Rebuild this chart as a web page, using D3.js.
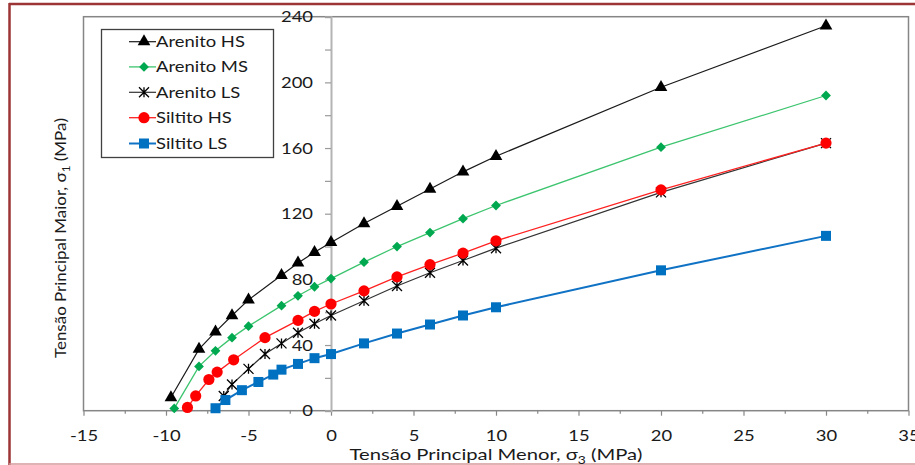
<!DOCTYPE html>
<html><head><meta charset="utf-8">
<script src="https://cdnjs.cloudflare.com/ajax/libs/d3/7.8.5/d3.min.js"></script>
<style>body{margin:0;background:#fff}svg{display:block}text{font-family:Lato,"Open Sans",sans-serif}</style>
</head><body><svg id="c" width="915" height="465"></svg>
<script>
const seriesNames = ["Arenito HS","Arenito MS","Arenito LS","Siltito HS","Siltito LS"];
const arenitoHS_x = [-9.7,-8,-7,-6,-5,-3,-2,-1,0,2,4,6,8,10,20,30];
const arenitoHS_y = [8,37.5,48,58,67.5,82.5,90,96.5,102.5,114,124.5,135,145.5,155,197,234.5];
const arenitoMS_x = [-9.5,-8,-7,-6,-5,-3,-2,-1,0,2,4,6,8,10,20,30];
const arenitoMS_y = [1.4,27,36.5,44.5,51.5,64,70,75.5,80.5,90.5,100,108.5,117,125,160.5,192];
const arenitoLS_x = [-6.5,-6,-5,-4,-3,-2,-1,0,2,4,6,8,10,20,30];
const arenitoLS_y = [9,16,25.5,34.5,41,47.5,53,58,67,76,84,91.5,99,133,163];
const siltitoHS_x = [-8.7,-8.2,-7.4,-6.9,-5.9,-4,-2,-1,0,2,4,6,8,10,20,30];
const siltitoHS_y = [2,9,19,23.5,31,44.5,55,60.5,65,73,81.5,89,96,103.5,134.5,163];
const siltitoLS_x = [-7,-6.4,-5.4,-4.4,-3.5,-3,-2,-1,0,2,4,6,8,10,20,30];
const siltitoLS_y = [1.5,6.5,12.5,17.5,22,25,28.5,32,34.5,41,47,52.5,58,63,85.5,106.5];
const xTicks = [-15,-10,-5,0,5,10,15,20,25,30,35];
const yTicks = [0,40,80,120,160,200,240];
const xTitle = "Tensão Principal Menor, σ";
const yTitle = "Tensão Principal Maior, σ";

const svg = d3.select("#c");
const STRETCH = 1.15;
const x = d3.scaleLinear().domain([-15,35]).range([83.5,908.5]);
const y = d3.scaleLinear().domain([0,240]).range([410.7,16.7]);

// outer border
svg.append("line").attr("x1",9).attr("x2",915).attr("y1",4).attr("y2",4).attr("stroke","#9c3535").attr("stroke-width",2.5);
svg.append("line").attr("x1",9.5).attr("x2",9.5).attr("y1",3).attr("y2",465).attr("stroke","#9c3535").attr("stroke-width",2.5);
svg.append("line").attr("x1",9).attr("x2",915).attr("y1",464).attr("y2",464).attr("stroke","#d49a9a").attr("stroke-width",1.5);

// plot frame
svg.append("rect").attr("x",x(-15)).attr("y",y(240)).attr("width",x(35)-x(-15)).attr("height",y(0)-y(240))
  .attr("fill","none").attr("stroke","#868686").attr("stroke-width",1.5);

// x axis
const xMinor = d3.range(-15,35.01,2.5);
const xAx = svg.append("g").attr("transform",`translate(0,${y(0)})`)
  .call(d3.axisBottom(x).tickValues(xMinor).tickSize(4).tickPadding(15)
    .tickFormat(d => xTicks.includes(d) ? String(d) : ""));
xAx.select(".domain").remove();
xAx.selectAll(".tick line").attr("stroke","#868686").attr("stroke-width",1.2)
  .attr("y2", d => xTicks.includes(d) ? 5 : 3);
xAx.selectAll(".tick text").attr("font-size",16).attr("fill","#1a1a1a").attr("font-family","Lato");

// y axis at x=0
const yAx = svg.append("g").attr("transform",`translate(${x(0)},0)`)
  .call(d3.axisLeft(y).tickValues(d3.range(0,240.1,20)).tickSize(6).tickPadding(12)
    .tickFormat(d => yTicks.includes(d) ? String(d) : ""));
yAx.select(".domain").attr("stroke","#b4b4b4").attr("stroke-width",2);
yAx.selectAll(".tick line").attr("stroke","#9a9a9a").attr("stroke-width",1.2);
yAx.selectAll(".tick text").attr("font-size",16).attr("fill","#1a1a1a").attr("font-family","Lato");

// series
const series = [
  {name:seriesNames[0], xs:arenitoHS_x, ys:arenitoHS_y, line:"#1a1a1a", lw:1.2, fill:"#000", shape:"tri"},
  {name:seriesNames[1], xs:arenitoMS_x, ys:arenitoMS_y, line:"#3cc46e", lw:1.3, fill:"#00a84f", shape:"dia"},
  {name:seriesNames[2], xs:arenitoLS_x, ys:arenitoLS_y, line:"#333", lw:1.2, fill:"#000", shape:"star"},
  {name:seriesNames[3], xs:siltitoHS_x, ys:siltitoHS_y, line:"#ff2020", lw:1.3, fill:"#ff0000", shape:"cir"},
  {name:seriesNames[4], xs:siltitoLS_x, ys:siltitoLS_y, line:"#0f72c4", lw:2, fill:"#0070c0", shape:"sq"}
];

function marker(g, s, cx, cy){
  if (s.shape==="tri") g.append("path").attr("d", d3.symbol(d3.symbolTriangle, 70)()).attr("transform",`translate(${cx},${cy})`).attr("fill",s.fill);
  else if (s.shape==="dia") g.append("path").attr("d", d3.symbol(d3.symbolSquare, 48)()).attr("transform",`translate(${cx},${cy}) rotate(45)`).attr("fill",s.fill);
  else if (s.shape==="cir") g.append("circle").attr("cx",cx).attr("cy",cy).attr("r",5.6).attr("fill",s.fill);
  else if (s.shape==="sq") g.append("rect").attr("x",cx-5).attr("y",cy-5).attr("width",10).attr("height",10).attr("fill",s.fill);
  else if (s.shape==="star") {
    const r=5;
    g.append("path").attr("d",`M${cx-r},${cy-r}L${cx+r},${cy+r}M${cx-r},${cy+r}L${cx+r},${cy-r}M${cx},${cy-r}L${cx},${cy+r}`)
      .attr("stroke","#000").attr("stroke-width",1.3).attr("fill","none");
  }
}

const line = d3.line().x(d=>x(d[0])).y(d=>y(d[1]));
series.forEach(s => {
  const pts = s.xs.map((v,i)=>[v,s.ys[i]]);
  const g = svg.append("g");
  g.append("path").attr("d", line(pts)).attr("fill","none").attr("stroke",s.line).attr("stroke-width",s.lw);
  pts.forEach(p => marker(g, s, x(p[0]), y(p[1])));
});

// legend
const lg = svg.append("g");
lg.append("rect").attr("x",101.5).attr("y",29.5).attr("width",172).attr("height",128).attr("fill","#fff")
  .attr("stroke","#404040").attr("stroke-width",1.3);
const rowY = [41.7,66.9,92.3,117.7,143.5];
series.forEach((s,i) => {
  const cy = rowY[i];
  lg.append("line").attr("x1",129).attr("x2",156).attr("y1",cy).attr("y2",cy).attr("stroke",s.line).attr("stroke-width",s.lw);
  marker(lg, s, 144, cy);
  lg.append("text").attr("class","leg").attr("x",156).attr("y",cy+5.5).attr("font-size",16).attr("fill","#1a1a1a").text(s.name);
});

// titles
const xt = svg.append("text").attr("x",496).attr("y",460).attr("text-anchor","middle").attr("font-size",16).attr("fill","#1a1a1a");
xt.append("tspan").text(xTitle);
xt.append("tspan").attr("font-size",11).attr("dy",4).text("3");
xt.append("tspan").attr("dy",-4).text(" (MPa)");
const yt = svg.append("text").attr("transform","translate(66,238) rotate(-90)").attr("text-anchor","middle").attr("font-size",16).attr("fill","#1a1a1a");
yt.append("tspan").text(yTitle);
yt.append("tspan").attr("font-size",11).attr("dy",4).text("1");
yt.append("tspan").attr("dy",-4).text(" (MPa)");

// horizontal stretch of horizontal texts (reference appears widened)
svg.selectAll(".tick text, text.leg").each(function(){
  const L = this.getComputedTextLength();
  if (L>0) d3.select(this).attr("textLength", L*STRETCH).attr("lengthAdjust","spacingAndGlyphs");
});
xt.attr("textLength",293).attr("lengthAdjust","spacingAndGlyphs");
yt.attr("textLength",240).attr("lengthAdjust","spacingAndGlyphs");
</script></body></html>
